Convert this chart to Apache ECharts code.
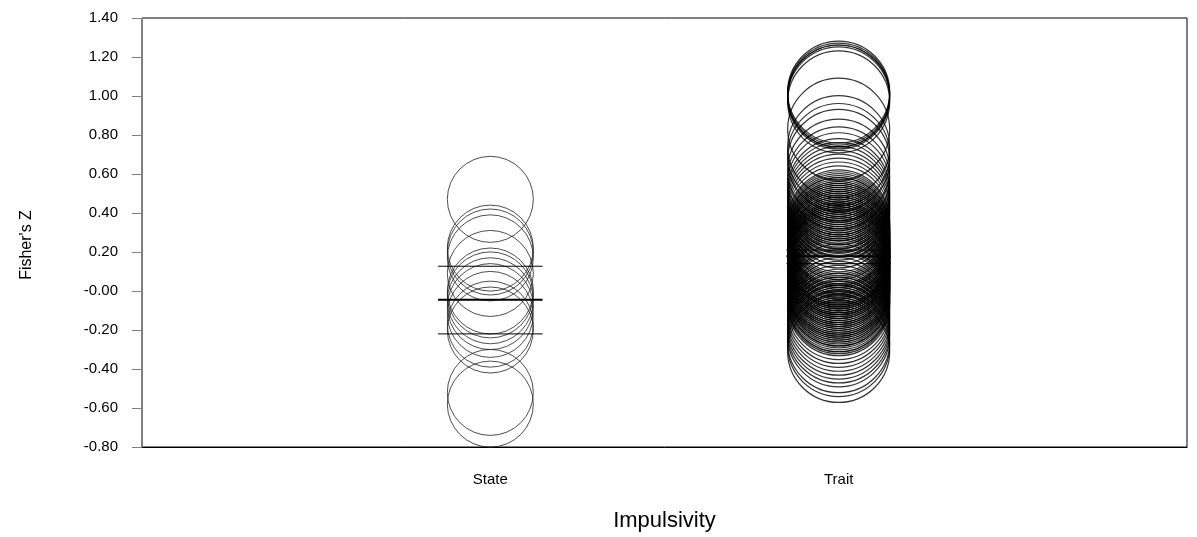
<!DOCTYPE html>
<html>
<head>
<meta charset="utf-8">
<script src="https://cdn.jsdelivr.net/npm/echarts@6/dist/echarts.min.js"></script>
<style>
html,body{margin:0;padding:0;background:#fff;}
#chart{width:1197px;height:537px;}
</style>
</head>
<body>
<div id="chart"></div>
<script>
// Categories and tick labels
var categories = ['State', 'Trait'];
var yTicks = [-0.8, -0.6, -0.4, -0.2, 0, 0.2, 0.4, 0.6, 0.8, 1.0, 1.2, 1.4];
var xTitle = 'Impulsivity';
var yTitle = "Fisher's Z";

// Fisher's Z per study
var stateValues = [0.47, 0.22, 0.20, 0.17, 0.09, 0.00, -0.02, -0.05, -0.08, -0.12, -0.17, -0.20, -0.52, -0.58];
var traitValues = [1.02, 1.01, 1.00, 1.00, 0.99, 0.97, 0.83, 0.74, 0.70, 0.67, 0.62, 0.58, 0.55, 0.52,
  0.50, 0.48, 0.46, 0.44, 0.42, 0.40, 0.38, 0.36, 0.35, 0.34,
  0.33, 0.32, 0.32, 0.31, 0.30, 0.30, 0.29, 0.29, 0.28, 0.28, 0.27, 0.27, 0.26, 0.26, 0.25, 0.25,
  0.25, 0.24, 0.24, 0.23, 0.23, 0.22, 0.22, 0.22, 0.21, 0.21, 0.20, 0.20, 0.20, 0.19, 0.19, 0.19,
  0.18, 0.18, 0.18, 0.17, 0.17, 0.17, 0.16, 0.16, 0.16, 0.15, 0.15, 0.15, 0.14, 0.14, 0.14, 0.13,
  0.13, 0.12, 0.12, 0.12, 0.11, 0.11, 0.10, 0.10, 0.10, 0.09, 0.09, 0.08, 0.08, 0.07, 0.07, 0.06,
  0.06, 0.05, 0.05, 0.04, 0.04, 0.03, 0.03, 0.02, 0.02, 0.01, 0.01, 0.00, 0.00, -0.01, -0.02, -0.02,
  -0.03, -0.04, -0.05, -0.05, -0.06,
  -0.07, -0.09, -0.11, -0.13, -0.15, -0.17, -0.19, -0.21, -0.23, -0.26, -0.28, -0.31];

// Summary lines: lower CI, mean, upper CI
var stateSummary = [-0.22, -0.045, 0.127];
var traitSummary = [0.14, 0.178, 0.21];

var lineHalf = 0.15;
var FONT = '"Liberation Sans", Arial, sans-serif';

function pts(idx, vals) {
  return vals.map(function (v) { return [idx + 1, v]; });
}
function summarySeries(idx, vals) {
  return vals.map(function (v, i) {
    return {
      type: 'line',
      data: [[idx + 1 - lineHalf, v], [idx + 1 + lineHalf, v]],
      symbol: 'none',
      silent: true,
      z: 5,
      lineStyle: { color: '#000', width: i === 1 ? 2 : 1 }
    };
  });
}

var chart = echarts.init(document.getElementById('chart'), null, { renderer: 'canvas' });
var series = [
  {
    type: 'scatter',
    data: pts(0, stateValues),
    symbol: 'circle',
    symbolSize: 86,
    itemStyle: { color: 'rgba(0,0,0,0)', borderColor: '#222', borderWidth: 1 },
    silent: true
  },
  {
    type: 'scatter',
    data: pts(1, traitValues),
    symbol: 'circle',
    symbolSize: 102,
    itemStyle: { color: 'rgba(0,0,0,0)', borderColor: '#000', borderWidth: 1.2 },
    silent: true
  }
].concat(summarySeries(0, stateSummary)).concat(summarySeries(1, traitSummary));

chart.setOption({
  animation: false,
  backgroundColor: '#fff',
  grid: { left: 142, right: 10, top: 18, bottom: 87, show: true, borderColor: '#000', borderWidth: 1 },
  graphic: [{
    type: 'text',
    x: 27, y: 245,
    rotation: Math.PI / 2,
    style: { text: yTitle, font: '16px ' + FONT, fill: '#000', align: 'center', verticalAlign: 'middle' }
  }],
  xAxis: {
    type: 'value', min: 0, max: 3, interval: 1,
    name: xTitle, nameLocation: 'middle', nameGap: 63,
    nameTextStyle: { fontFamily: FONT, fontSize: 22, color: '#000' },
    axisLine: { show: true, onZero: false, lineStyle: { color: '#000', width: 1 } },
    axisTick: { show: false },
    splitLine: { show: false },
    axisLabel: {
      margin: 25, fontFamily: FONT, fontSize: 15, color: '#000',
      formatter: function (v) { var i = Math.round(v) - 1; return categories[i] || ''; }
    }
  },
  yAxis: {
    type: 'value', min: yTicks[0], max: yTicks[yTicks.length - 1], interval: 0.2,
    axisLine: { show: true, lineStyle: { color: '#808080', width: 1 } },
    axisTick: { show: true, length: 10, lineStyle: { color: '#808080' } },
    splitLine: { show: false },
    axisLabel: {
      margin: 24, fontFamily: FONT, fontSize: 15, color: '#000',
      formatter: function (v) {
        var r = Math.round(v * 100) / 100;
        if (r === 0) return '-0.00';
        return r.toFixed(2);
      }
    }
  },
  series: series
});
</script>
</body>
</html>
